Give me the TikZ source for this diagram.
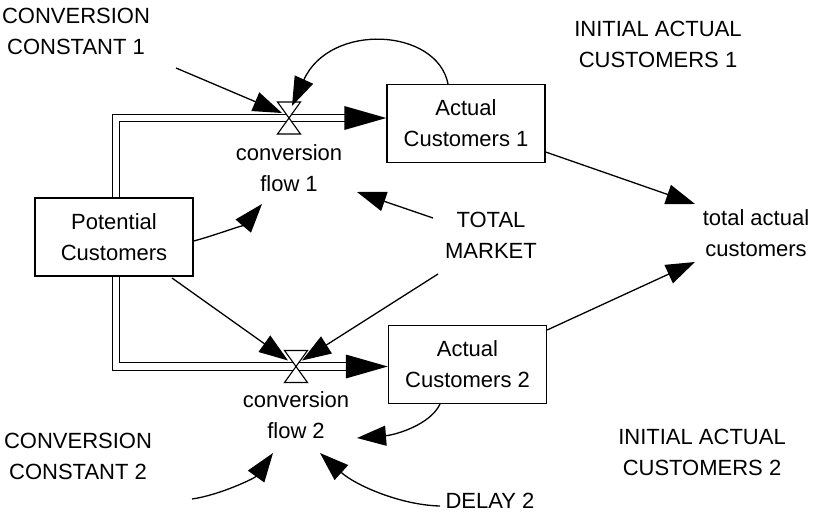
\documentclass[tikz,border=0pt]{standalone}
\usepackage{fontspec}
\setmainfont{Liberation Sans}
\usetikzlibrary{arrows.meta}

\begin{document}
\begin{tikzpicture}[x=1pt,y=-1pt,font=\fontsize{22}{31}\selectfont,
    stock/.style={draw, line width=1.3pt, inner sep=0pt, align=center, minimum width=158pt, minimum height=78pt},
    lbl/.style={inner sep=0pt, align=center},
    link/.style={line width=1.3pt, -{Triangle[length=29pt,width=20pt]}},
    pipe/.style={double distance=6.5pt, line width=1.1pt},
    valve/.style={fill=white, line width=1.1pt}]
    \useasboundingbox (0,0) rectangle (824,514);
    \node [stock] (pot) at (114,237) {Potential\\Customers};
    \node [stock] (ac1) at (466,123.5) {Actual\\Customers 1};
    \node [stock] (ac2) at (467.5,364.5) {Actual\\Customers 2};
    \coordinate (v1) at (289,118);
    \coordinate (v2) at (296,366.5);
    \node [lbl] (flow1) at (289,168) {conversion\\flow 1};
    \node [lbl] (flow2) at (296,415) {conversion\\flow 2};
    \node [lbl] (cc1) at (76,31) {CONVERSION\\CONSTANT 1};
    \node [lbl] (cc2) at (78,456) {CONVERSION\\CONSTANT 2};
    \node [lbl] (iac1) at (658,44) {INITIAL ACTUAL\\CUSTOMERS 1};
    \node [lbl] (iac2) at (702,452) {INITIAL ACTUAL\\CUSTOMERS 2};
    \node [lbl] (tm) at (491,235) {TOTAL\\MARKET};
    \node [lbl] (tac) at (756,233) {total actual\\customers};
    \node [lbl] (delay) at (490,501) {DELAY 2};
    \draw [pipe, shorten >=40pt] ([xshift=2pt]pot.north) |- (ac1.west |- v1);
    \draw [pipe, shorten >=40pt] ([xshift=2pt]pot.south) |- (ac2.west |- v2);
    \fill (ac1.west |- v1) -- ++(-42,-12) -- ++(0,24) -- cycle;
    \fill (ac2.west |- v2) -- ++(-42,-12) -- ++(0,24) -- cycle;
    \draw [valve] ([shift={(-11.5,-16)}]v1) -- ++(23,0) -- ++(-23,32) -- ++(23,0) -- cycle;
    \draw [valve] ([shift={(-11.5,-16)}]v2) -- ++(23,0) -- ++(-23,32) -- ++(23,0) -- cycle;
    \draw [link] ([shift={(100,37)}]cc1.center) -- ([shift={(-7,-5)}]v1);
    \draw [link] ([xshift=-18pt]ac1.north) .. controls (437,28) and (330,22) .. ([shift={(3,-12)}]v1);
    \draw [link] ([shift={(0,4)}]pot.east) .. controls (213,236) and (245,224) .. ([shift={(-27,36)}]flow1.center);
    \draw [link] ([shift={(-58,-17)}]tm.center) -- ([shift={(68,24)}]flow1.center);
    \draw [link] ([shift={(0,28.5)}]ac1.east) -- ([shift={(-61,-29)}]tac.center);
    \draw [link] ([shift={(0,-34.5)}]ac2.east) -- ([shift={(-61,29)}]tac.center);
    \draw [link] ([shift={(58,41)}]pot.center) -- ([shift={(-8,-6)}]v2);
    \draw [link] ([shift={(-53,39)}]tm.center) -- ([shift={(6,-6)}]v2);
    \draw [link] ([xshift=-27.5pt]ac2.south) .. controls (430,425) and (395,435) .. ([shift={(61,23)}]flow2.center);
    \draw [link] ([shift={(114,43)}]cc2.center) .. controls (220,495) and (255,478) .. ([shift={(-23,38)}]flow2.center);
    \draw [link] ([shift={(-50,5)}]delay.center) .. controls (400,505) and (355,485) .. ([shift={(24,38)}]flow2.center);
\end{tikzpicture}
\end{document}
